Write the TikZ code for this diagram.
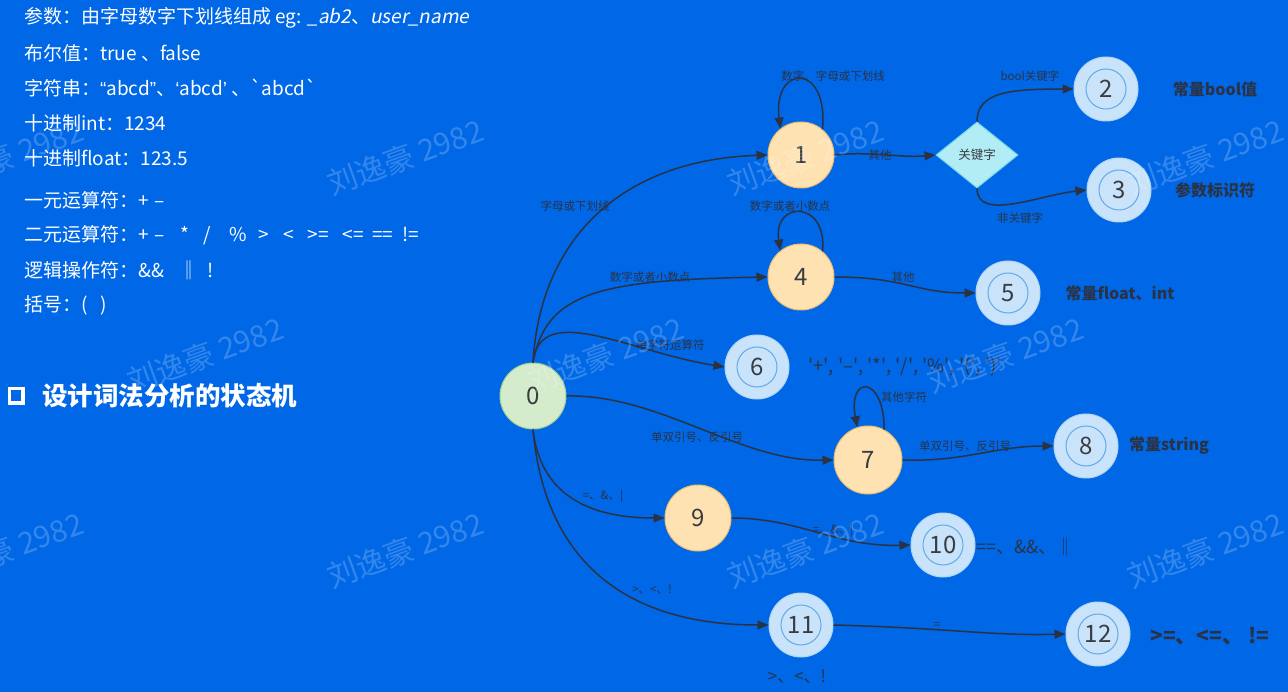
\documentclass[tikz,border=0pt]{standalone}
\usepackage{fontspec}
\setmainfont{Noto Sans CJK SC}
\newfontfamily\slantf{Noto Sans CJK SC}[FakeSlant=0.2]
\newfontfamily\latf{Liberation Sans}
\usetikzlibrary{arrows.meta,shapes.geometric}
\definecolor{bg}{RGB}{0,104,230}
\definecolor{ink}{RGB}{42,50,70}
\definecolor{gfill}{RGB}{212,236,203}
\definecolor{gedge}{RGB}{160,205,150}
\definecolor{ofill}{RGB}{255,226,178}
\definecolor{oedge}{RGB}{236,190,110}
\definecolor{bfill}{RGB}{200,227,250}
\definecolor{bedge}{RGB}{178,212,246}
\definecolor{bring}{RGB}{100,170,232}
\definecolor{cfill}{RGB}{178,236,244}
\definecolor{cedge}{RGB}{120,215,235}
\definecolor{numc}{RGB}{58,60,66}
\begin{document}
\begin{tikzpicture}[x=1pt,y=-1pt,
  state/.style={circle, minimum size=66pt, inner sep=0pt, line width=1pt, font=\fontsize{24}{26}\selectfont, text=numc},
  startst/.style={state, fill=gfill, draw=gedge},
  midst/.style={state, fill=ofill, draw=oedge},
  finst/.style={state, fill=bfill, draw=bedge, minimum size=64pt,
    path picture={\draw[bring, line width=1pt] (path picture bounding box.center) circle (20pt);}},
  kwbox/.style={diamond, minimum width=82pt, minimum height=66pt, inner sep=0pt, fill=cfill, draw=cedge, line width=1pt, font=\fontsize{12.5}{14}\selectfont, text=numc},
  edge/.style={draw=ink, line width=1.5pt, -{Triangle[length=11pt,width=9pt]}},
  elab/.style={font=\fontsize{11.5}{13}\selectfont, text=ink, inner sep=1pt},
  desc/.style={font=\bfseries\fontsize{16}{18}\selectfont, text=ink, inner sep=0pt},
  lefttxt/.style={anchor=west, text=white, font=\fontsize{19}{22}\selectfont, inner sep=0pt},
  wm/.style={text=white, opacity=0.2, rotate=20, font=\fontsize{30}{32}\selectfont}]
\fill[bg] (0,0) rectangle (1288,692);
\useasboundingbox (0,0) rectangle (1288,692);

% left text
\node[lefttxt] (t1) at (24,18) {参数：由字母数字下划线组成 eg: {\slantf \_ab2}、{\slantf user\_name}};
\node[lefttxt] (t2) at (24,53) {布尔值：true 、false};
\node[lefttxt] (t3) at (24,88) {字符串：{\latf “}abcd{\latf ”}、{\latf ‘}abcd{\latf ’} 、\textasciigrave abcd\textasciigrave};
\node[lefttxt] (t4) at (24,123) {十进制int：1234};
\node[lefttxt] (t5) at (24,158) {十进制float：123.5};
\node[lefttxt] (t6) at (24,200) {一元运算符：+\hspace{6pt}–};
\node[lefttxt] (t7) at (24,235) {二元运算符：+\hspace{6pt}–\hspace{16pt}*\hspace{14pt}/\hspace{18pt}\%\hspace{12pt}>\hspace{14pt}<\hspace{14pt}>=\hspace{14pt}<=\hspace{8pt}==\hspace{9pt}!=};
\node[lefttxt] (t8) at (24,270) {逻辑操作符：\&\&\hspace{15pt}‖\hspace{9pt}!};
\node[lefttxt] (t9) at (24,305) {括号：(\hspace{13pt})};
\draw[white, line width=3.2pt] (9.5,388.5) rectangle (23,403);
\node[anchor=west, text=white, font=\bfseries\fontsize{25.5}{28}\selectfont, inner sep=0pt] (title) at (42,396) {设计词法分析的状态机};

% states
\node[startst] (n0) at (533,396) {0};
\node[midst] (n1) at (801,155) {1};
\node[kwbox] (kw) at (977,155) {关键字};
\node[finst] (n2) at (1106,89) {2};
\node[finst] (n3) at (1119,190) {3};
\node[midst] (n4) at (801,277) {4};
\node[finst] (n5) at (1008,293) {5};
\node[finst] (n6) at (757,367) {6};
\node[midst, minimum size=68pt] (n7) at (868,460) {7};
\node[finst] (n8) at (1086,446) {8};
\node[midst] (n9) at (698,518) {9};
\node[finst] (n10) at (943,545) {10};
\node[finst] (n11) at (801,625) {11};
\node[finst] (n12) at (1098,634) {12};

% edges
\draw[edge] (n0.north) .. controls (540,240) and (620,160) .. (n1.west);
\draw[edge] (n0.north) .. controls (546,292) and (600,280) .. (n4.west);
\draw[edge] (n0.north) .. controls (540,300) and (630,352) .. (n6.west);
\draw[edge] (n0.east) .. controls (660,394) and (740,462) .. (n7.west);
\draw[edge] (n0.south) .. controls (540,492) and (585,518) .. (n9.west);
\draw[edge] (n0.south) .. controls (545,565) and (630,625) .. (n11.west);
\draw[edge] (n1.50) .. controls +(6,-68) and +(-8,-64) .. (n1.128);
\draw[edge] (n1.east) .. controls (870,151) and (900,158) .. (kw.west);
\draw[edge] (kw.north) .. controls (977,92) and (1010,89) .. (n2.west);
\draw[edge] (kw.south) .. controls (977,222) and (1040,195) .. (n3.west);
\draw[edge] (n4.50) .. controls +(5,-52) and +(-8,-50) .. (n4.128);
\draw[edge] (n4.east) .. controls (905,277) and (915,293) .. (n5.west);
\draw[edge] (n7.62) .. controls +(0,-55) and +(-10,-52) .. (n7.108);
\draw[edge] (n7.east) .. controls (965,462) and (995,446) .. (n8.west);
\draw[edge] (n9.east) .. controls (800,518) and (835,547) .. (n10.west);
\draw[edge] (n11.east) .. controls (950,628) and (990,636) .. (n12.west);

% edge labels
\node[elab] (l1) at (833,76) {数字、字母或下划线};
\node[elab] (l2) at (880,155) {其他};
\node[elab] (l3) at (1030,76) {bool关键字};
\node[elab] (l4) at (1020,218) {非关键字};
\node[elab] (l5) at (575,206) {字母或下划线};
\node[elab] (l6) at (790,206) {数字或者小数点};
\node[elab] (l7) at (650,277) {数字或者小数点};
\node[elab] (l8) at (903,277) {其他};
\node[elab] (l9) at (670,345) {单字符运算符};
\node[elab] (l10) at (904,397) {其他字符};
\node[elab] (l11) at (697,437) {单双引号、反引号};
\node[elab] (l12) at (965,446) {单双引号、反引号};
\node[elab] (l13) at (603,496) {=、\&、|};
\node[elab] (l14) at (833,530) {=、\&、|};
\node[elab] (l15) at (652,590) {>、<、!};
\node[elab] (l16) at (937,625) {=};

% descriptions
\node[desc] (d2) at (1215,89) {常量bool值};
\node[desc] (d3) at (1215,190) {参数标识符};
\node[desc] (d5) at (1120,293) {常量float、int};
\node[desc, anchor=west, font=\fontsize{18.5}{20}\selectfont] (d6) at (808,367) {\textquotesingle+\textquotesingle, \textquotesingle--\textquotesingle, \textquotesingle*\textquotesingle, \textquotesingle/\textquotesingle, \textquotesingle\%\textquotesingle, \textquotesingle(\textquotesingle, \textquotesingle)\textquotesingle};
\node[desc] (d8) at (1169,446) {常量string};
\node[desc, anchor=west, font=\fontsize{18}{20}\selectfont] (d10) at (976,547) {==、\&\&、‖};
\node[desc, anchor=west, font=\bfseries\fontsize{21}{23}\selectfont] (d12) at (1150,636) {>=、<=、 !=};
\node[desc, font=\fontsize{17}{19}\selectfont] (d11) at (797,677) {>、<、!};

% watermarks
\node[wm] (w1) at (5,157) {刘逸豪 2982};
\node[wm] (w2) at (405,157) {刘逸豪 2982};
\node[wm] (w3) at (805,157) {刘逸豪 2982};
\node[wm] (w4) at (1205,157) {刘逸豪 2982};
\node[wm] (w5) at (205,355) {刘逸豪 2982};
\node[wm] (w6) at (605,355) {刘逸豪 2982};
\node[wm] (w7) at (1005,355) {刘逸豪 2982};
\node[wm] (w8) at (5,550) {刘逸豪 2982};
\node[wm] (w9) at (405,550) {刘逸豪 2982};
\node[wm] (w10) at (805,550) {刘逸豪 2982};
\node[wm] (w11) at (1205,550) {刘逸豪 2982};
\end{tikzpicture}
\end{document}
